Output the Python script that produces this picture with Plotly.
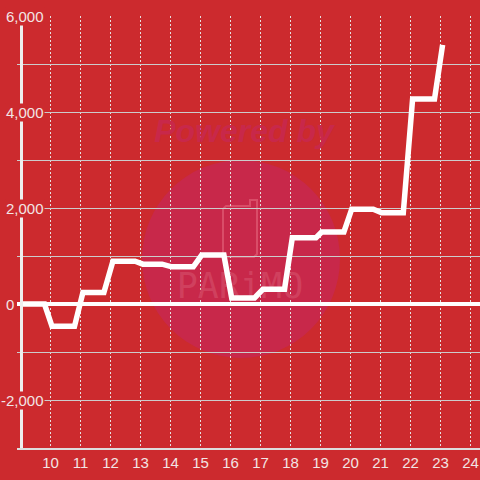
import plotly.graph_objects as go

# ---- data ----
hours = [9.0, 9.8, 10.05, 10.8, 11.08, 11.78, 12.08, 12.82, 13.08, 13.72, 14.04, 14.76,
         15.04, 15.78, 16.04, 16.8, 17.08, 17.8, 18.06, 18.85, 19.04, 19.78, 20.04, 20.76,
         21.04, 21.76, 22.07, 22.8, 23.07]
values = [0, 0, -465, -465, 240, 240, 890, 890, 830, 830, 775, 775,
          1020, 1020, 125, 125, 305, 305, 1380, 1380, 1500, 1500, 1975, 1975,
          1900, 1900, 4270, 4270, 5400]
x_ticks = list(range(10, 25))
y_label_vals = [6000, 4000, 2000, -2000]
y_label_text = ["6,000", "4,000", "2,000", "-2,000"]

BG = "#CC2A2E"
W, H = 480, 480
L, R, T, B = 17, 0, 16, 32
PW, PH = W - L - R, H - T - B
X_MIN, X_MAX = 10 - (50.5 - L) / 30, 10 + (W - 50.5) / 30
Y_MIN, Y_MAX = -3000, 6000

def px(x):
    return (x - L) / PW

def py(y):
    return (H - B - y) / PH

def dx(x):
    return X_MIN + px(x) * (X_MAX - X_MIN)

def dy(y):
    return Y_MIN + py(y) * (Y_MAX - Y_MIN)

fig = go.Figure()
# watermark texts (drawn beneath the data line)
fig.add_trace(go.Scatter(x=[dx(244)], y=[dy(134)], mode="text", text=["Powered by"],
                         textposition="middle center", hoverinfo="skip",
                         textfont=dict(family="Liberation Sans", size=32, color="#C8284A",
                                       weight="bold", style="italic")))
fig.add_trace(go.Scatter(x=[dx(240)], y=[dy(289)], mode="text", text=["PARiMO"],
                         textposition="middle center", hoverinfo="skip",
                         textfont=dict(family="DejaVu Sans Mono", size=35, color="#D0405E")))
fig.add_trace(go.Scatter(x=hours, y=values, mode="lines",
                         line=dict(color="#ffffff", width=5.5), hoverinfo="skip"))

shapes = [
    dict(type="circle", xref="paper", yref="paper", layer="below",
         x0=px(142), x1=px(340), y0=py(358), y1=py(160),
         fillcolor="#C8284A", line=dict(width=0)),
    dict(type="path", xref="paper", yref="paper", layer="below",
         path=(f"M {px(226)},{py(206)} L {px(250)},{py(206)} L {px(250)},{py(200)} "
               f"L {px(257)},{py(200)} L {px(257)},{py(254)} L {px(254)},{py(257)} "
               f"L {px(226)},{py(257)} L {px(223)},{py(254)} L {px(223)},{py(209)} Z"),
         line=dict(color="#D94D68", width=2)),
]

annotations = []
for v, t in zip(y_label_vals, y_label_text):
    annotations.append(dict(text=t, xref="paper", yref="y", x=px(45), y=v,
                            xanchor="right", yanchor="middle", showarrow=False,
                            bgcolor=BG, borderpad=0,
                            font=dict(family="Liberation Sans", size=15, color="#F2E4E4")))
annotations.append(dict(text="0", xref="paper", yref="y", x=px(16), y=0,
                        xanchor="right", yanchor="middle", showarrow=False,
                        font=dict(family="Liberation Sans", size=15, color="#F2E4E4")))

fig.update_layout(
    width=W, height=H,
    margin=dict(l=L, r=R, t=T, b=B, pad=0),
    paper_bgcolor=BG, plot_bgcolor=BG,
    showlegend=False,
    shapes=shapes,
    annotations=annotations,
    xaxis=dict(range=[X_MIN, X_MAX],
               tickvals=x_ticks, ticktext=[str(t) for t in x_ticks],
               showgrid=True, gridcolor="#E6E0E0", gridwidth=1, griddash="2px,2px",
               showline=True, linecolor="#DDDDDD", linewidth=1.5,
               ticks="", zeroline=False, automargin=False,
               tickfont=dict(family="Liberation Sans", size=15, color="#F2E4E4")),
    yaxis=dict(range=[Y_MIN, Y_MAX], dtick=1000, tick0=0,
               showgrid=True, gridcolor="#CCCCCC", gridwidth=1.3,
               zeroline=True, zerolinecolor="#FFFFFF", zerolinewidth=3.5,
               showticklabels=False, ticks="", automargin=False,
               showline=True, linecolor="#EEEEEE", linewidth=3,
               anchor="free", position=px(20.5)),
)

fig.write_html("out.html", config={"displayModeBar": False},
               post_script="document.body.style.margin='0';document.body.style.overflow='hidden';")
